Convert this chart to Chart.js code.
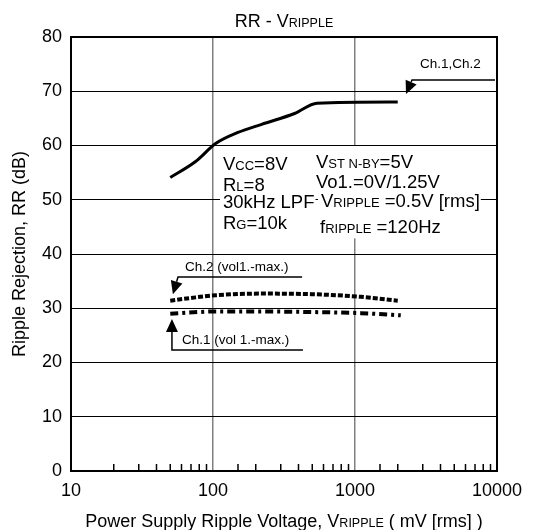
<!DOCTYPE html>
<html>
<head>
<meta charset="utf-8">
<script src="https://cdn.jsdelivr.net/npm/chart.js@4.4.0/dist/chart.umd.min.js"></script>
<style>
  html, body { margin: 0; padding: 0; background: #fff; }
  #wrap { width: 533px; height: 530px; }
</style>
</head>
<body>
<div id="wrap"><canvas id="rrChart" width="533" height="530"></canvas></div>
<script>
// RR - VRIPPLE
const chAllX = [50, 75, 105, 150, 220, 375, 540, 2000];
const chAllY = [54.1, 57.0, 60.4, 62.4, 63.9, 65.9, 67.8, 68.0];
const ch2X = [50, 70, 105, 220, 490, 1100, 2000];
const ch2Y = [31.4, 31.9, 32.4, 32.7, 32.6, 32.1, 31.4];
const ch1X = [50, 105, 220, 490, 1100, 2100];
const ch1Y = [29.0, 29.4, 29.4, 29.3, 29.1, 28.7];

const xLabels = [10, 100, 1000, 10000];
const yMin = 0, yMax = 80, yStep = 10;

const FONT = '"Liberation Sans", Arial, sans-serif';
const BIG = 18, SMALL = 12.5;

// condition text, [x, y] anchors in data units, parts = [text, size]
const condLines = [
  { at: [117.6, 55.5], parts: [['V', 18.5], ['CC', 13], ['=8V', 18.5]] },
  { at: [117.6, 51.7], parts: [['R', 18.5], ['L', 13], ['=8', 18.5]] },
  { at: [117.6, 48.4], parts: [['30kHz LPF', 18.5]] },
  { at: [117.6, 44.7], parts: [['R', 18.5], ['G', 13], ['=10k', 18.5]] },
  { at: [531, 55.85], parts: [['V', 18.5], ['ST N-BY', 13], ['=5V', 18.5]] },
  { at: [531, 52.1], parts: [['Vo1.=0V/1.25V', 18.5]] },
  { at: [576, 48.6], parts: [['V', 18.5], ['RIPPLE', 13], [' =0.5V [rms]', 18.5]] },
  { at: [567, 43.8], parts: [['f', 18.5], ['RIPPLE', 13], [' =120Hz', 18.5]] }
];

const chLabels = [
  { at: [2870, 74.2], text: 'Ch.1,Ch.2' },
  { at: [63.5, 36.9], text: 'Ch.2 (vol1.-max.)' },
  { at: [60.5, 23.5], text: 'Ch.1 (vol 1.-max.)' }
];

// pointer lines, last point is the arrow tip
const pointers = [
  [[9680, 72.07], [2520, 72.07], [2286, 69.5]],
  [[424, 35.76], [56.7, 35.76], [52.2, 32.6]],
  [[430, 22.3], [51.4, 22.3], [51.4, 28.0]]
];

function toPoints(xs, ys) {
  return xs.map((x, i) => ({ x: x, y: ys[i] }));
}

function richWidth(ctx, parts) {
  let w = 0;
  parts.forEach(([t, sz]) => {
    ctx.font = sz + 'px ' + FONT;
    w += ctx.measureText(t).width;
  });
  return w;
}

function richText(ctx, parts, x, y) {
  let cx = x;
  parts.forEach(([t, sz]) => {
    ctx.font = sz + 'px ' + FONT;
    ctx.fillText(t, cx, y);
    cx += ctx.measureText(t).width;
  });
  return cx;
}

const isDecade = v => Math.abs(Math.log10(v) - Math.round(Math.log10(v))) < 1e-9;

const annotations = {
  id: 'annotations',
  afterDatasetsDraw(chart) {
    const ctx = chart.ctx;
    const xs = chart.scales.x, ys = chart.scales.y;
    const px = p => [xs.getPixelForValue(p[0]), ys.getPixelForValue(p[1])];
    ctx.save();
    ctx.textBaseline = 'alphabetic';
    ctx.textAlign = 'left';

    // white boxes behind the condition text, then the text
    condLines.forEach(l => {
      const [x, y] = px(l.at);
      const w = richWidth(ctx, l.parts);
      ctx.fillStyle = '#fff';
      ctx.fillRect(x - 3, y - 22, w + 4, 27);
    });
    ctx.fillStyle = '#000';
    condLines.forEach(l => {
      const [x, y] = px(l.at);
      richText(ctx, l.parts, x, y);
    });

    // channel labels
    ctx.font = '13.5px ' + FONT;
    chLabels.forEach(l => {
      const [x, y] = px(l.at);
      ctx.fillText(l.text, x, y);
    });

    // pointer lines with filled heads
    ctx.strokeStyle = '#000';
    ctx.lineWidth = 1.5;
    pointers.forEach(pts => {
      const p = pts.map(px);
      ctx.beginPath();
      ctx.moveTo(p[0][0], p[0][1]);
      for (let i = 1; i < p.length - 1; i++) ctx.lineTo(p[i][0], p[i][1]);
      const a = p[p.length - 2], b = p[p.length - 1];
      const ang = Math.atan2(b[1] - a[1], b[0] - a[0]);
      const len = 13, half = 6;
      const bx = b[0] - len * Math.cos(ang), by = b[1] - len * Math.sin(ang);
      ctx.lineTo(bx, by);
      ctx.stroke();
      ctx.beginPath();
      ctx.moveTo(b[0], b[1]);
      ctx.lineTo(bx + half * Math.sin(ang), by - half * Math.cos(ang));
      ctx.lineTo(bx - half * Math.sin(ang), by + half * Math.cos(ang));
      ctx.closePath();
      ctx.fill();
    });
    ctx.restore();
  },
  afterDraw(chart) {
    const ctx = chart.ctx;
    const a = chart.chartArea;
    const xs = chart.scales.x;
    ctx.save();
    // minor ticks inside the bottom axis
    ctx.strokeStyle = '#000';
    ctx.lineWidth = 1.5;
    xs.ticks.forEach(t => {
      if (isDecade(t.value)) return;
      const x = xs.getPixelForValue(t.value);
      ctx.beginPath();
      ctx.moveTo(x, a.bottom);
      ctx.lineTo(x, a.bottom - 7);
      ctx.stroke();
    });
    // frame
    ctx.lineWidth = 2;
    ctx.strokeRect(a.left, a.top, a.right - a.left, a.bottom - a.top);

    // titles
    ctx.fillStyle = '#000';
    ctx.textBaseline = 'alphabetic';
    ctx.textAlign = 'left';
    const cx = (a.left + a.right) / 2;
    const title = [['RR - V', BIG], ['RIPPLE', SMALL]];
    richText(ctx, title, cx - richWidth(ctx, title) / 2, 27);
    const xTitle = [['Power Supply Ripple Voltage, V', BIG], ['RIPPLE', SMALL], [' ( mV [rms] )', BIG]];
    richText(ctx, xTitle, cx - richWidth(ctx, xTitle) / 2, 527);

    ctx.translate(25, (a.top + a.bottom) / 2);
    ctx.rotate(-Math.PI / 2);
    ctx.textAlign = 'center';
    ctx.font = BIG + 'px ' + FONT;
    ctx.fillText('Ripple Rejection, RR (dB)', 0, 0);
    ctx.restore();
  }
};

new Chart(document.getElementById('rrChart'), {
  type: 'line',
  data: {
    datasets: [
      {
        data: toPoints(chAllX, chAllY),
        borderColor: '#000',
        borderWidth: 3,
        cubicInterpolationMode: 'monotone',
        pointRadius: 0
      },
      {
        data: toPoints(ch2X, ch2Y),
        borderColor: '#000',
        borderWidth: 4,
        borderDash: [5, 2],
        cubicInterpolationMode: 'monotone',
        pointRadius: 0
      },
      {
        data: toPoints(ch1X, ch1Y),
        borderColor: '#000',
        borderWidth: 4,
        borderDash: [8, 4, 3, 4],
        cubicInterpolationMode: 'monotone',
        pointRadius: 0
      }
    ]
  },
  options: {
    responsive: false,
    animation: false,
    devicePixelRatio: 1,
    layout: { padding: { top: 37, right: 36, left: 0, bottom: 0 } },
    plugins: { legend: { display: false }, tooltip: { enabled: false } },
    scales: {
      x: {
        type: 'logarithmic',
        min: 10,
        max: 10000,
        afterFit: s => { s.height = 59; },
        border: { display: true, color: '#000', width: 2 },
        grid: {
          color: c => (c.tick && isDecade(c.tick.value)) ? '#808080' : 'rgba(0,0,0,0)',
          lineWidth: 1.5,
          drawTicks: false
        },
        ticks: {
          autoSkip: false,
          maxRotation: 0,
          padding: 9,
          color: '#000',
          font: { family: FONT, size: BIG },
          callback: v => xLabels.includes(v) ? String(v) : ''
        }
      },
      y: {
        min: yMin,
        max: yMax,
        afterFit: s => { s.width = 71; },
        border: { display: true, color: '#000', width: 2 },
        grid: { color: '#000', lineWidth: 1, drawTicks: false },
        ticks: {
          stepSize: yStep,
          padding: 9,
          color: '#000',
          font: { family: FONT, size: BIG }
        }
      }
    }
  },
  plugins: [annotations]
});
</script>
</body>
</html>
